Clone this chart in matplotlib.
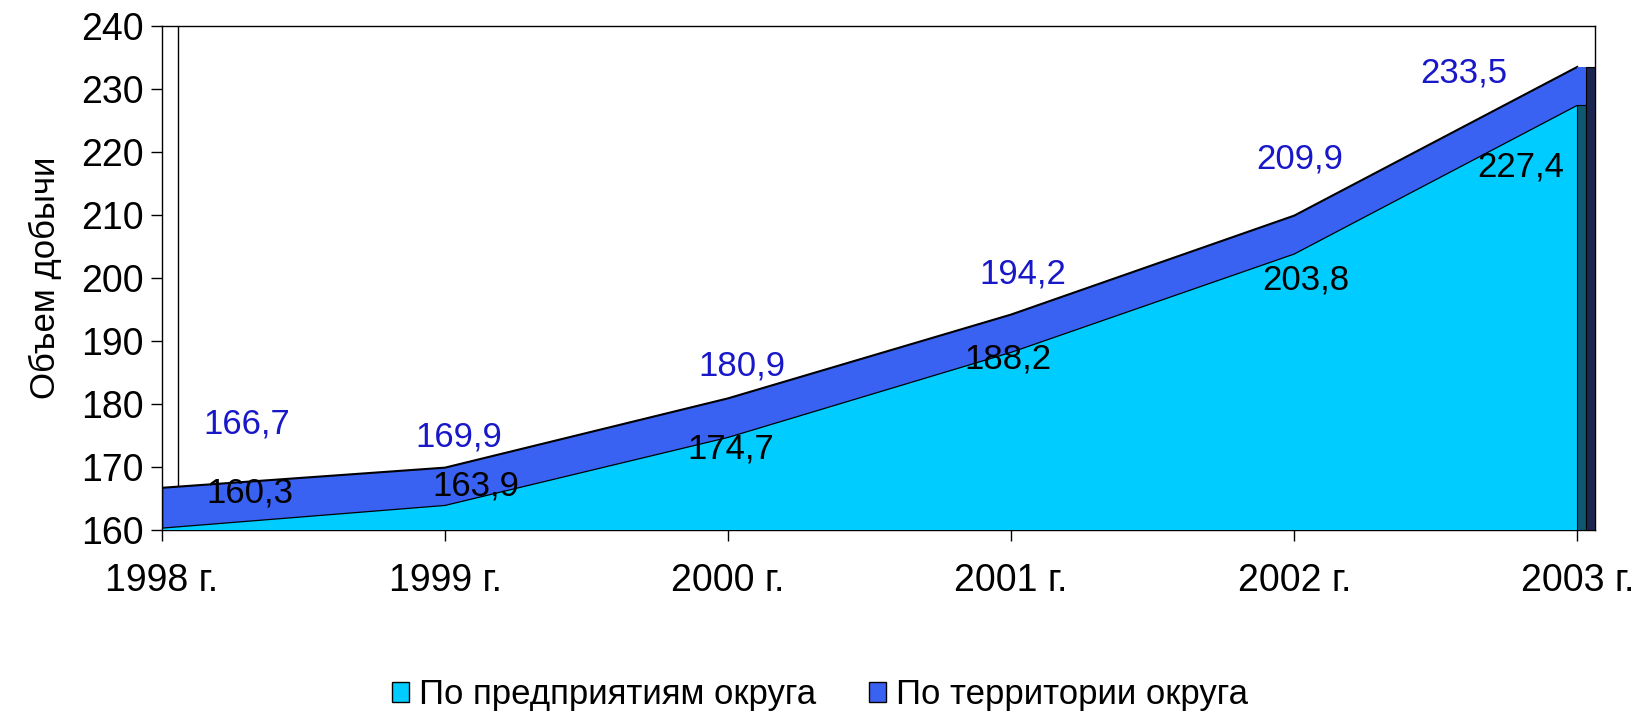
import matplotlib
matplotlib.use('Agg')
import matplotlib.pyplot as plt
from matplotlib.patches import Patch

plt.rcParams['font.family'] = ['Liberation Sans', 'DejaVu Sans']

years       = ['1998 г.', '1999 г.', '2000 г.', '2001 г.', '2002 г.', '2003 г.']
territory   = [166.7, 169.9, 180.9, 194.2, 209.9, 233.5]   # По территории округа
enterprises = [160.3, 163.9, 174.7, 188.2, 203.8, 227.4]   # По предприятиям округа

# подписи смещены как в Excel
terr_dx = [0.30, 0.05, 0.05, 0.04, 0.02, -0.40]
terr_dy = [10.2, 4.9, 5.2, 6.5, 9.0, -1.0]
ent_dx  = [0.31, 0.11, 0.01, -0.01, 0.04, -0.20]
ent_dy  = [5.5, 3.1, -1.9, -1.0, -4.1, -9.8]

C_TERR  = '#3A62F2'
C_ENT   = '#00CCFF'
C_TERR_SIDE = '#1C2450'
C_ENT_SIDE  = '#0F5870'

fig = plt.figure(figsize=(16.4, 7.14), dpi=100)
ax = fig.add_axes([0.0988, 0.2577, 0.8738, 0.7059])

x = list(range(len(years)))
depth = 0.063
xe = x[-1]

ax.fill_between(x, 160, territory, color=C_TERR, edgecolor='none', zorder=2)
ax.plot(x, territory, color='black', lw=1.5, zorder=3)
ax.fill_between(x, 160, enterprises, color=C_ENT, edgecolor='none', zorder=4)
ax.plot(x, enterprises, color='black', lw=0.9, zorder=5)
ax.plot([x[0], x[0]], [160, territory[0]], color='black', lw=1, zorder=5)

# боковые грани (3D)
ax.fill_between([xe, xe + depth / 2], 160, territory[-1], color=C_TERR,
                edgecolor='none', zorder=5)
ax.fill_between([xe, xe + depth / 2], 160, enterprises[-1], color=C_ENT_SIDE,
                edgecolor='black', lw=0.8, zorder=6)
ax.fill_between([xe + depth / 2, xe + depth], 160, territory[-1], color=C_TERR_SIDE,
                edgecolor='black', lw=0.8, zorder=6)

# задняя стенка
ax.axvline(0.055, color='black', lw=1, zorder=1)

for i in x:
    ax.text(i + terr_dx[i], territory[i] + terr_dy[i], f"{territory[i]:.1f}".replace('.', ','),
            color='#1818C8', fontsize=25, ha='center', va='center', zorder=8)
    ax.text(i + ent_dx[i], enterprises[i] + ent_dy[i], f"{enterprises[i]:.1f}".replace('.', ','),
            color='black', fontsize=25, ha='center', va='center', zorder=8)

ax.set_xlim(0, xe + depth)
ax.set_ylim(160, 240)
ax.set_yticks(range(160, 241, 10))
ax.set_xticks(x)
ax.set_xticklabels(years)
ax.tick_params(axis='both', labelsize=27, length=8, width=1, direction='out', pad=5)
ax.tick_params(axis='x', pad=16)
ax.set_ylabel('Объем добычи', fontsize=25, labelpad=14)
for s in ax.spines.values():
    s.set_linewidth(1)

handles = [Patch(facecolor=C_ENT, edgecolor='black', label='По предприятиям округа'),
           Patch(facecolor=C_TERR, edgecolor='black', label='По территории округа')]
fig.legend(handles=handles, loc='center', bbox_to_anchor=(0.5, 0.027), ncol=2,
           frameon=False, fontsize=25, handlelength=0.5, handleheight=0.5,
           handletextpad=0.3, columnspacing=1.5)

fig.savefig('out.png', dpi=100)
